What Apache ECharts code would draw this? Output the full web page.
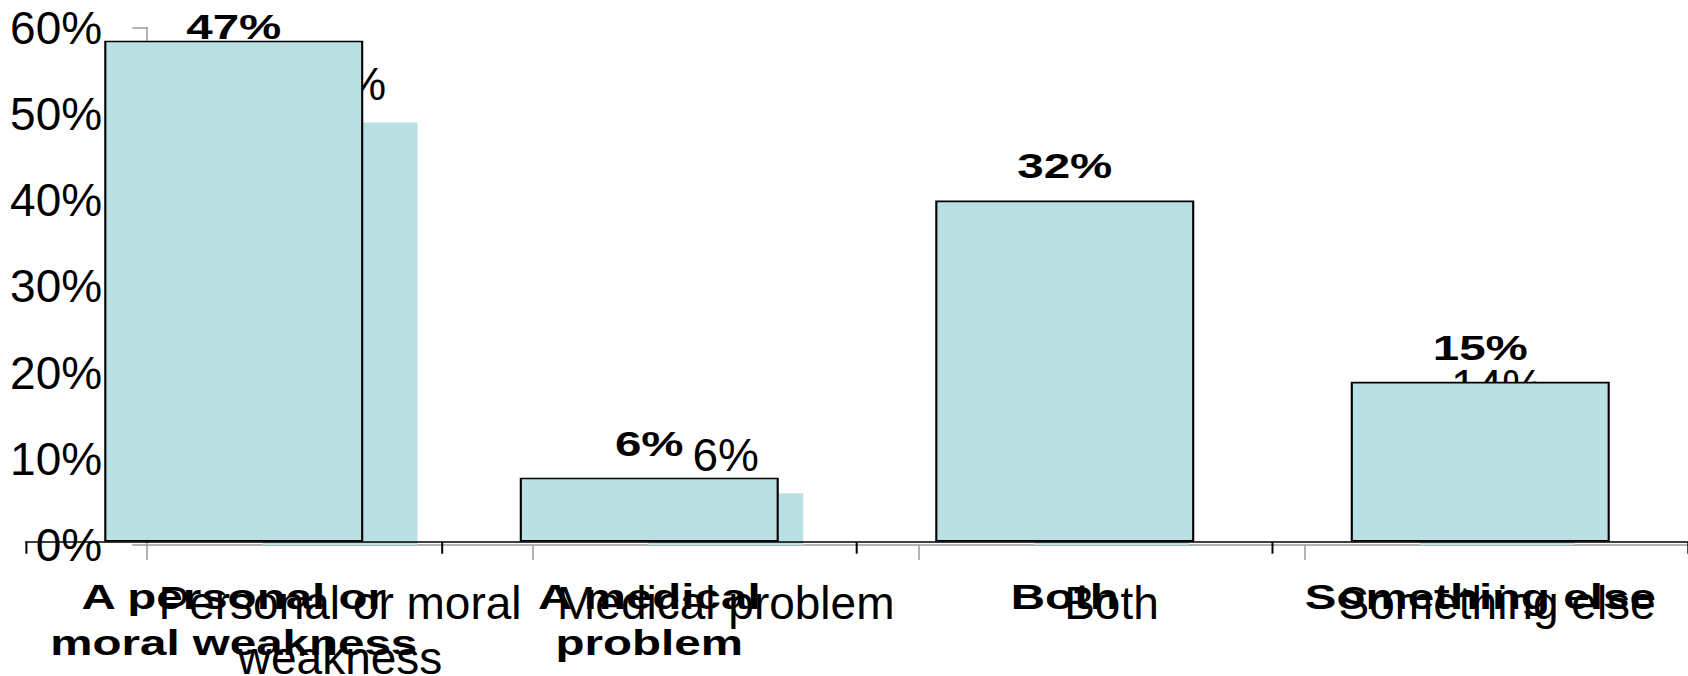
<!DOCTYPE html>
<html>
<head>
<meta charset="utf-8">
<script src="https://cdn.jsdelivr.net/npm/echarts@6/dist/echarts.min.js"></script>
<style>
html,body{margin:0;padding:0;background:#fff;overflow:hidden;width:1688px;height:676px;}
#chartB{position:absolute;left:0;top:0;width:1688px;height:676px;}
#chartA{position:absolute;left:0;top:0;height:676px;transform-origin:0 0;}
</style>
</head>
<body>
<div id="chartB"></div>
<div id="chartA"></div>
<script>
// ---- data ----
const categoriesA = ['A personal or\nmoral weakness', 'A medical\nproblem', 'Both', 'Something else'];
const valuesA = [47, 6, 32, 15];
const categoriesB = ['Personal or moral\nweakness', 'Medical problem', 'Both', 'Something else'];
const valuesB = [49, 6, 31, 14];
const yTicksB = [0, 10, 20, 30, 40, 50, 60];

const FONT = "'Liberation Sans', Arial, sans-serif";
const BAR = '#BBE0E3';
const SX = 1.32; // horizontal stretch of the bold overlay chart

// ---- background chart (B) ----
const chartB = echarts.init(document.getElementById('chartB'), null, {renderer: 'svg'});
chartB.setOption({
  animation: false,
  backgroundColor: '#fff',
  grid: {left: 147.2, top: 27.5, width: 1542.8, height: 517.5, containLabel: false, outerBoundsMode: 'none'},
  xAxis: {
    type: 'category',
    data: categoriesB,
    axisLine: {lineStyle: {color: '#9a9a9a', width: 1.5}},
    axisTick: {show: true, length: 15, lineStyle: {color: '#9a9a9a', width: 1.5}},
    axisLabel: {interval: 0, color: '#000', fontFamily: FONT, fontSize: 46, lineHeight: 55, margin: 30}
  },
  yAxis: {
    type: 'value',
    min: yTicksB[0], max: yTicksB[yTicksB.length - 1], interval: 10,
    splitLine: {show: false},
    axisLine: {show: true, lineStyle: {color: '#9a9a9a', width: 1.5}},
    axisTick: {show: true, length: 15, lineStyle: {color: '#9a9a9a', width: 1.5}},
    axisLabel: {color: '#000', fontFamily: FONT, fontSize: 46, margin: 45, formatter: '{value}%'}
  },
  series: [{
    type: 'bar',
    data: valuesB,
    barWidth: 155,
    itemStyle: {color: BAR},
    label: {show: true, position: 'top', distance: 15, color: '#000', fontFamily: FONT, fontSize: 46, formatter: '{c}%'}
  }]
});

// ---- overlay chart (A), stretched horizontally ----
const elA = document.getElementById('chartA');
elA.style.width = (1688 / SX) + 'px';
elA.style.transform = 'scaleX(' + SX + ')';
const chartA = echarts.init(elA, null, {renderer: 'svg'});
const dataA = valuesA.map((v, i) => i === 0
  ? {value: v, label: {offset: [0, 20]}}
  : v);
chartA.setOption({
  animation: false,
  backgroundColor: 'transparent',
  grid: {left: 26 / SX, top: 8.7, width: 1662 / SX, height: 533, containLabel: false, outerBoundsMode: 'none'},
  xAxis: {
    type: 'category',
    data: categoriesA,
    axisLine: {lineStyle: {color: '#000', width: 1.6}},
    axisTick: {show: true, length: 12, lineStyle: {color: '#000', width: 1.5}},
    axisLabel: {interval: 0, color: '#000', fontFamily: FONT, fontWeight: 'bold', fontSize: 36, lineHeight: 46, margin: 32}
  },
  yAxis: {
    type: 'value', min: 0, max: 50,
    show: false
  },
  series: [{
    type: 'bar',
    data: dataA,
    barWidth: 259 / SX,
    itemStyle: {color: BAR, borderColor: '#000', borderWidth: 1.6},
    label: {show: true, position: 'top', distance: 16.5, color: '#000', fontFamily: FONT, fontWeight: 'bold', fontSize: 36, formatter: '{c}%'}
  }]
});
</script>
</body>
</html>
